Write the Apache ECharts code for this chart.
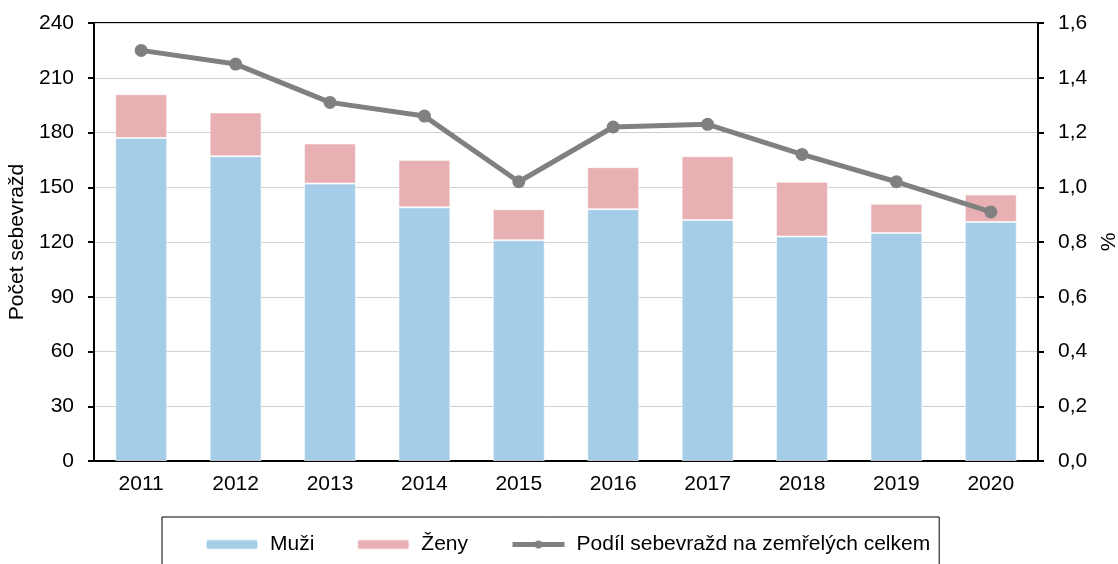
<!DOCTYPE html>
<html>
<head>
<meta charset="utf-8">
<script src="https://cdn.jsdelivr.net/npm/echarts@6/dist/echarts.min.js"></script>
<style>
html, body { margin: 0; padding: 0; background: #fff; }
#main { width: 1118px; height: 564px; }
</style>
</head>
<body>
<div id="main"></div>
<script>
var years = ["2011", "2012", "2013", "2014", "2015", "2016", "2017", "2018", "2019", "2020"];
var muzi = [177, 167, 152, 139, 121, 138, 132, 123, 125, 131];
var zeny = [24, 24, 22, 26, 17, 23, 35, 30, 16, 15];
var podil = [1.50, 1.45, 1.31, 1.26, 1.02, 1.22, 1.23, 1.12, 1.02, 0.91];

var font = "Liberation Sans";

(function () {
    var n = echarts.init(document.getElementById("main"));
    n.setOption({
        backgroundColor: "#fff",
        animation: false,
        textStyle: { fontFamily: font, color: "#000" },
        grid: {
            left: 94, right: 80, top: 23, bottom: 103,
            containLabel: false, outerBoundsMode: "none",
            show: true, borderColor: "#000", borderWidth: 2
        },
        legend: {
            data: ["Muži", "Ženy", "Podíl sebevražd na zemřelých celkem"],
            left: 162, top: 517,
            padding: [17, 9, 30, 43],
            itemGap: 42,
            itemWidth: 52, itemHeight: 10,
            lineStyle: { width: 5 },
            borderColor: "#000", borderWidth: 1,
            textStyle: { fontFamily: font, fontSize: 21, color: "#000", padding: [0, 0, 0, 7] }
        },
        xAxis: [{
            type: "category",
            data: years,
            axisLine: { lineStyle: { color: "#000", width: 2 } },
            axisTick: { length: 6, lineStyle: { color: "#000", width: 2 } },
            axisLabel: { margin: 13, fontSize: 21, color: "#000", fontFamily: font },
            splitLine: { show: false }
        }],
        yAxis: [
            {
                type: "value", min: 0, max: 240, interval: 30,
                name: "Počet sebevražd", nameLocation: "middle", nameGap: 59,
                nameTextStyle: { fontSize: 21, color: "#000", fontFamily: font },
                axisLine: { show: true, lineStyle: { color: "#000", width: 2 } },
                axisTick: { show: true, length: 6, lineStyle: { color: "#000", width: 2 } },
                axisLabel: { margin: 20, fontSize: 21, color: "#000", fontFamily: font },
                splitLine: { lineStyle: { color: "#d0d0d0", width: 1 } }
            },
            {
                type: "value", min: 0, max: 1.6, interval: 0.2,
                name: "%", nameLocation: "middle", nameGap: 61,
                nameTextStyle: { fontSize: 21, color: "#000", fontFamily: font },
                axisLine: { show: true, lineStyle: { color: "#000", width: 2 } },
                axisTick: { show: true, length: 6, lineStyle: { color: "#000", width: 2 } },
                axisLabel: {
                    margin: 20, fontSize: 21, color: "#000", fontFamily: font,
                    formatter: function (v) { return v.toFixed(1).replace(".", ","); }
                },
                splitLine: { show: false }
            }
        ],
        series: [
            {
                name: "Muži", type: "bar", stack: "s", barWidth: "55%",
                itemStyle: { color: "#a6cde8", borderColor: "rgba(255,255,255,0.6)", borderWidth: 1 },
                data: muzi
            },
            {
                name: "Ženy", type: "bar", stack: "s",
                itemStyle: { color: "#e8b0b3", borderColor: "rgba(255,255,255,0.6)", borderWidth: 1 },
                data: zeny
            },
            {
                name: "Podíl sebevražd na zemřelých celkem", type: "line", yAxisIndex: 1,
                symbol: "circle", symbolSize: 13, z: 5,
                lineStyle: { color: "#808080", width: 5 },
                itemStyle: { color: "#808080" },
                data: podil
            }
        ]
    });
})();
</script>
</body>
</html>
